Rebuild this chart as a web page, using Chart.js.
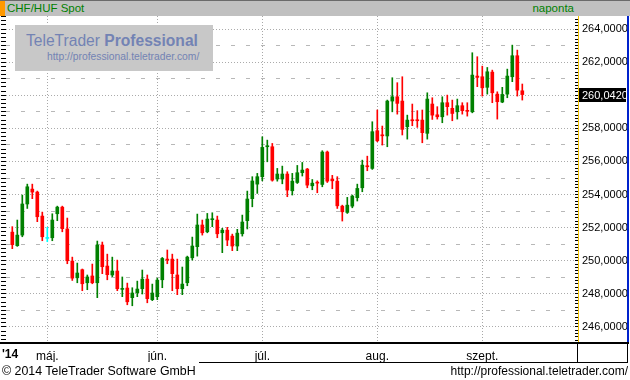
<!DOCTYPE html>
<html>
<head>
<meta charset="utf-8">
<script src="https://cdn.jsdelivr.net/npm/chart.js@4"></script>
<style>
  html,body{margin:0;padding:0;background:#fff;}
  #wrap{position:relative;width:630px;height:380px;overflow:hidden;font-family:"Liberation Sans",Arial,sans-serif;}
  canvas{position:absolute;left:0;top:0;}
  .abs{position:absolute;}
</style>
</head>
<body>
<div id="wrap">
  <canvas id="c" width="630" height="380"></canvas>
  <div class="abs" style="left:0;top:0;width:630px;height:16px;background:#c0c0c0;border-top:1px solid #6a6a6a;box-sizing:border-box;"></div>
  <div class="abs" style="left:0;top:1px;width:5px;height:15px;background:#ff9900;"></div>
  <div class="abs" style="left:7px;top:1px;height:15px;line-height:15px;font-size:11.5px;color:#008000;">CHF/HUF Spot</div>
  <div class="abs" style="right:56px;top:1px;height:15px;line-height:15px;font-size:11.5px;color:#008000;">naponta</div>

  <div class="abs" style="left:15px;top:25px;width:198px;height:46px;background:#c8c8c8;"></div>
  <div class="abs" style="left:26px;top:31px;font-size:15.6px;line-height:20px;color:#7383b4;white-space:nowrap;">TeleTrader <b>Professional</b></div>
  <div class="abs" style="left:47px;top:51px;font-size:10.3px;line-height:12px;color:#7383b4;white-space:nowrap;">http://professional.teletrader.com/</div>

  <div class="abs" style="left:578px;top:16px;width:1px;height:327px;background:#f2c200;"></div>
  <div class="abs" style="left:627px;top:16px;width:2px;height:327px;background:#0022cc;"></div>
  <div class="abs" style="left:0;top:342px;width:629px;height:2px;background:#000;"></div>
  <div class="abs" style="left:577px;top:343px;width:1px;height:19px;background:#000;"></div>
  <div class="abs" style="left:627px;top:343px;width:1px;height:19px;background:#000;"></div>
  <div class="abs" style="left:199px;top:362px;width:429px;height:1px;background:#000;"></div>
  <div class="abs" style="left:2px;top:347px;font-size:12px;line-height:14px;font-weight:bold;color:#000;">'14</div>
  <div class="abs" style="left:2px;top:364px;font-size:12.4px;line-height:15px;color:#000;white-space:nowrap;">© 2014 TeleTrader Software GmbH</div>
  <div class="abs" style="right:2px;top:364px;font-size:12px;line-height:15px;color:#000;white-space:nowrap;">http://professional.teletrader.com/</div>
</div>
<script>
// ---- data (trading days 22 Apr 2014 .. 11 Sep 2014), index = trading day ----
const opens  = [251.73,250.91,251.55,253.43,254.33,254.15,252.70,251.35,251.39,252.84,
                253.24,251.92,249.98,248.97,249.46,248.67,249.08,248.67,250.95,249.68,
                249.14,249.38,248.27,248.35,247.77,248.07,248.31,248.89,247.65,247.83,
                248.85,250.08,250.10,249.14,248.31,248.67,250.18,250.85,252.16,251.75,
                252.48,252.46,251.69,251.85,251.49,250.89,251.63,252.42,253.75,254.63,
                255.08,256.89,256.89,254.94,254.94,255.24,254.23,254.73,255.32,255.54,
                254.53,254.73,254.61,256.57,254.94,254.81,253.30,252.92,253.30,253.81,
                254.41,255.72,255.58,257.86,257.59,257.54,259.65,259.91,259.65,258.10,
                258.50,258.50,258.50,257.70,259.47,258.82,258.70,259.55,259.21,259.00,
                259.37,259.07,259.00,261.16,261.12,260.48,261.40,260.07,259.59,260.07,
                261.12,262.39,260.27];
const highs  = [252.06,252.46,253.97,254.63,254.63,254.21,252.94,252.02,252.84,253.30,
                253.30,252.58,250.22,249.86,249.50,249.14,249.80,251.19,251.13,250.40,
                250.22,250.04,249.02,248.65,248.37,248.77,249.44,249.14,248.59,248.95,
                250.20,250.65,250.40,250.10,249.62,250.28,251.43,252.82,252.46,252.86,
                252.90,252.70,251.96,252.02,251.61,251.90,252.76,254.21,255.08,255.28,
                257.49,257.29,257.09,255.58,255.72,255.38,255.28,255.76,255.94,255.58,
                254.91,254.83,256.65,256.63,255.16,255.08,253.36,253.83,253.97,254.63,
                256.08,256.32,258.40,259.11,258.14,259.71,261.06,260.76,261.12,258.80,
                259.47,259.07,259.11,260.15,259.85,259.31,259.91,260.01,259.71,259.77,
                259.55,259.55,262.57,262.33,261.76,261.68,261.52,260.21,260.48,261.58,
                263.03,262.73,260.68];
const lows   = [250.73,250.87,251.45,253.16,253.75,252.36,251.21,251.15,251.21,252.42,
                251.75,249.82,248.81,248.67,248.19,248.25,248.61,247.77,249.22,248.85,
                249.04,248.19,247.83,247.34,247.28,247.83,247.99,247.46,247.59,247.65,
                248.37,249.82,248.19,247.95,247.95,248.49,250.04,250.28,251.55,251.69,
                252.06,251.39,250.49,250.91,250.61,250.61,251.49,251.92,253.26,254.07,
                254.83,255.98,254.81,254.81,254.65,253.87,253.97,254.67,255.12,254.41,
                254.29,254.11,254.47,254.73,254.35,253.16,252.40,252.86,253.20,253.61,
                254.17,255.44,255.52,257.19,256.99,256.89,259.00,258.86,257.60,257.35,
                258.16,258.06,257.13,257.35,258.54,258.56,258.34,258.80,258.46,258.56,
                258.86,258.74,258.94,260.52,259.95,260.07,259.55,258.56,259.55,259.85,
                260.82,259.95,259.71];
const closes = [250.97,251.55,253.43,254.47,254.15,252.66,251.45,251.35,252.46,253.24,
                251.94,250.00,248.95,249.26,248.61,249.02,248.67,250.95,249.64,249.16,
                249.38,248.31,248.31,247.52,248.05,248.29,248.89,247.71,248.05,248.83,
                250.14,250.04,249.22,248.31,248.59,250.22,250.89,252.16,251.69,252.52,
                252.52,251.63,251.85,251.25,250.89,251.67,252.34,253.73,254.82,255.08,
                256.85,256.95,254.87,255.24,255.24,254.27,254.81,255.32,255.48,254.57,
                254.69,254.69,256.57,254.81,254.83,253.32,252.96,253.36,253.91,254.37,
                255.78,255.68,257.80,257.25,257.55,259.65,259.91,259.51,257.94,258.50,
                258.46,258.46,257.74,259.77,258.80,258.70,259.55,259.31,258.90,259.37,
                259.07,259.03,261.22,261.08,260.45,261.42,260.15,259.61,260.05,261.16,
                262.39,260.31,260.042];
const monthStart = [7, 29, 50, 73, 94];             // trading-day index of 1st of month
const monthNames = ['máj.', 'jún.', 'júl.', 'aug.', 'szept.'];
const priceLabels = [246, 248, 250, 252, 254, 256, 258, 260, 262, 264];
const oddLevels  = [245, 247, 249, 251, 253, 255, 257, 259, 261, 263];

// ---- view settings ----
const Y_MIN = 245.03, Y_MAX = 264.79;
const X_MIN = -1.26, X_MAX = 112.54;
const FONT = '"Liberation Sans", Arial, sans-serif';

const colorFor = (o, c) => c > o ? '#008000' : (c < o ? '#ff0000' : '#00ffff');
const candleColors = opens.map((o, i) => colorFor(o, closes[i]));
const wickData = highs.map((h, i) => ({x: i, y: [lows[i], h]}));
const bodyData = opens.map((o, i) => ({x: i, y: [o, closes[i]]}));

function stepTicks(lo, hi, step) {
  const out = [];
  const start = Math.ceil(lo / step - 1e-9), end = Math.floor(hi / step + 1e-9);
  for (let n = start; n <= end; n++) out.push({value: +(n * step).toFixed(4)});
  return out;
}
const lastClose = closes[closes.length - 1];
const fmt = v => v.toFixed(4).replace('.', ',');

const priceBox = {
  id: 'priceBox',
  afterDraw(chart) {
    const y = chart.scales.y.getPixelForValue(lastClose);
    const ctx = chart.ctx;
    const x0 = chart.chartArea.right + 3;
    ctx.save();
    ctx.fillStyle = '#000';
    ctx.fillRect(x0, Math.round(y) - 7, 48, 14);
    ctx.fillStyle = '#fff';
    ctx.font = '11px ' + FONT;
    ctx.textBaseline = 'middle';
    ctx.fillText(fmt(lastClose), x0 + 4, Math.round(y) + 0.5);
    ctx.restore();
  }
};

new Chart(document.getElementById('c'), {
  type: 'bar',
  data: {
    datasets: [
      {data: wickData, backgroundColor: candleColors, barThickness: 1, grouped: false, borderWidth: 0, yAxisID: 'y', xAxisID: 'x'},
      {data: bodyData, backgroundColor: candleColors, barThickness: 3, grouped: false, borderWidth: 0, minBarLength: 1, yAxisID: 'y', xAxisID: 'x'}
    ]
  },
  options: {
    responsive: false,
    animation: false,
    events: [],
    layout: {padding: {top: 16, left: 0, right: 2, bottom: 18}},
    plugins: {legend: {display: false}, tooltip: {enabled: false}},
    scales: {
      x: {
        type: 'linear', min: X_MIN, max: X_MAX, offset: false,
        afterBuildTicks: s => { s.ticks = monthStart.map(v => ({value: v})); },
        grid: {offset: false, color: '#a8a8a8', lineWidth: 1, drawTicks: false},
        border: {display: false, dash: [1, 2]},
        ticks: {autoSkip: false, maxRotation: 0, padding: 6, color: '#000', font: {family: FONT, size: 12},
                callback: v => monthNames[monthStart.indexOf(v)] || ''},
        afterFit: s => { s.height = 19; }
      },
      y: {
        position: 'right', min: Y_MIN, max: Y_MAX,
        afterBuildTicks: s => { s.ticks = stepTicks(Y_MIN, Y_MAX, 0.2); },
        grid: {drawOnChartArea: false, tickLength: 3, tickColor: '#000', tickWidth: 1},
        border: {display: false},
        ticks: {autoSkip: false, padding: 4, color: '#000', font: {family: FONT, size: 11},
                callback: v => {
                  const r = Math.round(v);
                  if (Math.abs(v - r) < 1e-6 && priceLabels.includes(r) && Math.abs(r - lastClose) > 0.5) return fmt(r);
                  return '';
                }},
        afterFit: s => { s.width = 53; }
      },
      yMajor: {
        position: 'right', min: Y_MIN, max: Y_MAX,
        afterBuildTicks: s => { s.ticks = priceLabels.map(v => ({value: v})); },
        grid: {drawTicks: false, color: '#ababab', lineWidth: 1},
        border: {display: false, dash: [1, 2]},
        ticks: {display: false},
        afterFit: s => { s.width = 0; }
      },
      yMinor: {
        position: 'right', min: Y_MIN, max: Y_MAX,
        afterBuildTicks: s => { s.ticks = oddLevels.map(v => ({value: v})); },
        grid: {drawTicks: false, color: '#b8b8b8', lineWidth: 1},
        border: {display: false, dash: [4, 11]},
        ticks: {display: false},
        afterFit: s => { s.width = 0; }
      },
      yLeft: {
        position: 'left', min: Y_MIN, max: Y_MAX,
        afterBuildTicks: s => { s.ticks = stepTicks(Y_MIN, Y_MAX, 0.25); },
        grid: {drawOnChartArea: false, tickLength: 5, tickColor: '#000', tickWidth: 1},
        border: {display: false},
        ticks: {display: false},
        afterFit: s => { s.width = 6; }
      }
    }
  },
  plugins: [priceBox]
});
</script>
</body>
</html>
